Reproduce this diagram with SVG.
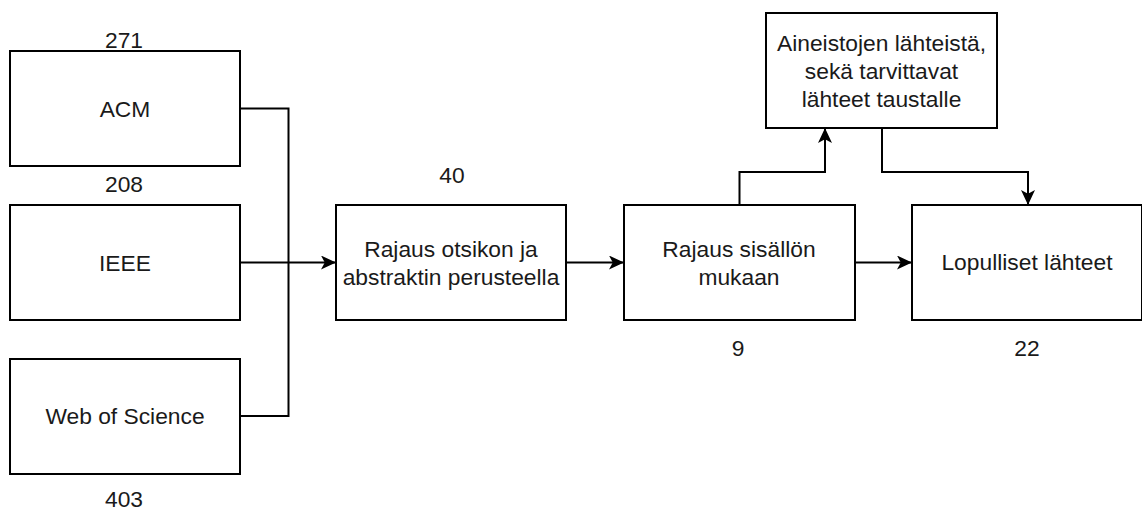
<svg xmlns="http://www.w3.org/2000/svg" width="1142" height="512" viewBox="0 0 1142 512">
<style>
.box{fill:#fff;stroke:#000;stroke-width:2}
.t{font-family:"Liberation Sans",Arial,sans-serif;font-size:22.8px;fill:#1a1a1a;text-anchor:middle}
.c{fill:none;stroke:#000;stroke-width:2}
</style>
<defs>
<marker id="arr" viewBox="0 0 15 14" refX="14" refY="7" markerWidth="15" markerHeight="14" markerUnits="userSpaceOnUse" orient="auto">
<path d="M0 0 L15 7 L0 14 L3.8 7 Z" fill="#000"/>
</marker>
</defs>
<rect width="1142" height="512" fill="#fff"/>
<g id="connectors">
<path class="c" d="M240 108.5 H288.5 V416 H240"/>
<path class="c" d="M240 262.5 H335" marker-end="url(#arr)"/>
<path class="c" d="M566 262.5 H623" marker-end="url(#arr)"/>
<path class="c" d="M855 262.5 H911" marker-end="url(#arr)"/>
<path class="c" d="M739.5 205 V172 H825 V129" marker-end="url(#arr)"/>
<path class="c" d="M882 128 V172 H1028 V204" marker-end="url(#arr)"/>
</g>
<g id="acm">
<rect class="box" x="10" y="51" width="230" height="115"/>
<text class="t" x="125" y="116.7">ACM</text>
<text class="t" x="124" y="48">271</text>
<text class="t" x="124" y="192">208</text>
</g>
<g id="ieee">
<rect class="box" x="10" y="205" width="230" height="115"/>
<text class="t" x="125" y="270.5">IEEE</text>
</g>
<g id="wos">
<rect class="box" x="10" y="359" width="230" height="115"/>
<text class="t" x="125" y="424">Web of Science</text>
<text class="t" x="124" y="507">403</text>
</g>
<g id="rajaus-otsikon">
<rect class="box" x="336" y="205" width="230" height="115"/>
<text class="t" x="451" y="256.7">Rajaus otsikon ja</text>
<text class="t" x="451" y="285">abstraktin perusteella</text>
<text class="t" x="452" y="183">40</text>
</g>
<g id="rajaus-sisallon">
<rect class="box" x="624" y="205" width="231" height="115"/>
<text class="t" x="739" y="256.5">Rajaus sisällön</text>
<text class="t" x="739" y="285">mukaan</text>
<text class="t" x="738" y="355.7">9</text>
</g>
<g id="lopulliset">
<rect class="box" x="912" y="205" width="230" height="115"/>
<text class="t" x="1027" y="270">Lopulliset lähteet</text>
<text class="t" x="1027" y="355.7">22</text>
</g>
<g id="aineistojen">
<rect class="box" x="766" y="13" width="231" height="115"/>
<text class="t" x="881.5" y="50.5">Aineistojen lähteistä,</text>
<text class="t" x="881.5" y="78.7">sekä tarvittavat</text>
<text class="t" x="881.5" y="106.9">lähteet taustalle</text>
</g>
</svg>
